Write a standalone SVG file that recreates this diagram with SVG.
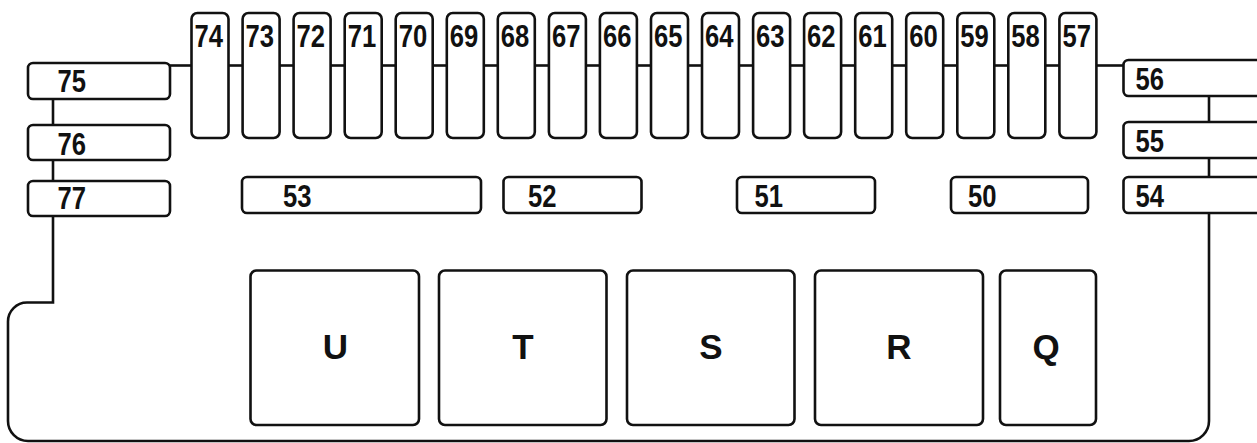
<svg xmlns="http://www.w3.org/2000/svg" width="1257" height="443" viewBox="0 0 1257 443">
  <style>
    .box { fill: #fff; stroke: #111; stroke-width: 2.6; }
    .wire { fill: none; stroke: #111; stroke-width: 2.6; }
    .num { font-family: "Liberation Sans Narrow", "Liberation Sans", Arial, sans-serif; font-weight: bold; font-size: 31px; fill: #111; }
    .big { font-family: "Liberation Sans", Arial, sans-serif; font-weight: bold; font-size: 35px; fill: #111; text-anchor: middle; }
  </style>
  <rect width="1257" height="443" fill="#fff"/>

  <!-- housing outline and bus lines -->
  <g id="connectors">
    <path class="wire" d="M53,216 V302.5 H27 A19,19 0 0 0 8,321.5 V421 A20,20 0 0 0 28,441 H1189 A20,20 0 0 0 1209,421 V213"/>
    <line class="wire" x1="53" y1="99" x2="53" y2="125"/>
    <line class="wire" x1="53" y1="160" x2="53" y2="181"/>
    <line class="wire" x1="1209" y1="96" x2="1209" y2="122"/>
    <line class="wire" x1="1209" y1="158" x2="1209" y2="177"/>
    <line class="wire" x1="170" y1="65.5" x2="191.5" y2="65.5"/>
    <line class="wire" x1="228.5" y1="65.5" x2="242.6" y2="65.5"/>
    <line class="wire" x1="279.6" y1="65.5" x2="293.6" y2="65.5"/>
    <line class="wire" x1="330.6" y1="65.5" x2="344.7" y2="65.5"/>
    <line class="wire" x1="381.7" y1="65.5" x2="395.7" y2="65.5"/>
    <line class="wire" x1="432.7" y1="65.5" x2="446.8" y2="65.5"/>
    <line class="wire" x1="483.8" y1="65.5" x2="497.8" y2="65.5"/>
    <line class="wire" x1="534.8" y1="65.5" x2="548.9" y2="65.5"/>
    <line class="wire" x1="585.9" y1="65.5" x2="599.9" y2="65.5"/>
    <line class="wire" x1="636.9" y1="65.5" x2="651.0" y2="65.5"/>
    <line class="wire" x1="688.0" y1="65.5" x2="702.0" y2="65.5"/>
    <line class="wire" x1="739.0" y1="65.5" x2="753.1" y2="65.5"/>
    <line class="wire" x1="790.1" y1="65.5" x2="804.1" y2="65.5"/>
    <line class="wire" x1="841.1" y1="65.5" x2="855.2" y2="65.5"/>
    <line class="wire" x1="892.2" y1="65.5" x2="906.2" y2="65.5"/>
    <line class="wire" x1="943.2" y1="65.5" x2="957.3" y2="65.5"/>
    <line class="wire" x1="994.3" y1="65.5" x2="1008.3" y2="65.5"/>
    <line class="wire" x1="1045.3" y1="65.5" x2="1059.4" y2="65.5"/>
    <line class="wire" x1="1096.4" y1="65.5" x2="1123.5" y2="65.5"/>
  </g>

  <!-- left column -->
  <g id="f75"><rect class="box" x="28" y="63" width="142" height="36" rx="5"/><text class="num" x="57.5" y="91.5" textLength="28.5" lengthAdjust="spacingAndGlyphs">75</text></g>
  <g id="f76"><rect class="box" x="28" y="125" width="142" height="35" rx="5"/><text class="num" x="57.5" y="155" textLength="28.5" lengthAdjust="spacingAndGlyphs">76</text></g>
  <g id="f77"><rect class="box" x="28" y="181" width="142" height="35" rx="5"/><text class="num" x="57.5" y="209" textLength="28.5" lengthAdjust="spacingAndGlyphs">77</text></g>

  <!-- top row of vertical fuses -->
  <g id="f74"><rect class="box" x="191.5" y="13" width="37" height="125" rx="6"/><text class="num" x="194.5" y="46.5" textLength="28.5" lengthAdjust="spacingAndGlyphs">74</text></g>
  <g id="f73"><rect class="box" x="242.6" y="13" width="37" height="125" rx="6"/><text class="num" x="245.6" y="46.5" textLength="28.5" lengthAdjust="spacingAndGlyphs">73</text></g>
  <g id="f72"><rect class="box" x="293.6" y="13" width="37" height="125" rx="6"/><text class="num" x="296.6" y="46.5" textLength="28.5" lengthAdjust="spacingAndGlyphs">72</text></g>
  <g id="f71"><rect class="box" x="344.7" y="13" width="37" height="125" rx="6"/><text class="num" x="347.7" y="46.5" textLength="28.5" lengthAdjust="spacingAndGlyphs">71</text></g>
  <g id="f70"><rect class="box" x="395.7" y="13" width="37" height="125" rx="6"/><text class="num" x="398.7" y="46.5" textLength="28.5" lengthAdjust="spacingAndGlyphs">70</text></g>
  <g id="f69"><rect class="box" x="446.8" y="13" width="37" height="125" rx="6"/><text class="num" x="449.8" y="46.5" textLength="28.5" lengthAdjust="spacingAndGlyphs">69</text></g>
  <g id="f68"><rect class="box" x="497.8" y="13" width="37" height="125" rx="6"/><text class="num" x="500.8" y="46.5" textLength="28.5" lengthAdjust="spacingAndGlyphs">68</text></g>
  <g id="f67"><rect class="box" x="548.9" y="13" width="37" height="125" rx="6"/><text class="num" x="551.9" y="46.5" textLength="28.5" lengthAdjust="spacingAndGlyphs">67</text></g>
  <g id="f66"><rect class="box" x="599.9" y="13" width="37" height="125" rx="6"/><text class="num" x="602.9" y="46.5" textLength="28.5" lengthAdjust="spacingAndGlyphs">66</text></g>
  <g id="f65"><rect class="box" x="651.0" y="13" width="37" height="125" rx="6"/><text class="num" x="654.0" y="46.5" textLength="28.5" lengthAdjust="spacingAndGlyphs">65</text></g>
  <g id="f64"><rect class="box" x="702.0" y="13" width="37" height="125" rx="6"/><text class="num" x="705.0" y="46.5" textLength="28.5" lengthAdjust="spacingAndGlyphs">64</text></g>
  <g id="f63"><rect class="box" x="753.1" y="13" width="37" height="125" rx="6"/><text class="num" x="756.1" y="46.5" textLength="28.5" lengthAdjust="spacingAndGlyphs">63</text></g>
  <g id="f62"><rect class="box" x="804.1" y="13" width="37" height="125" rx="6"/><text class="num" x="807.1" y="46.5" textLength="28.5" lengthAdjust="spacingAndGlyphs">62</text></g>
  <g id="f61"><rect class="box" x="855.2" y="13" width="37" height="125" rx="6"/><text class="num" x="858.2" y="46.5" textLength="28.5" lengthAdjust="spacingAndGlyphs">61</text></g>
  <g id="f60"><rect class="box" x="906.2" y="13" width="37" height="125" rx="6"/><text class="num" x="909.2" y="46.5" textLength="28.5" lengthAdjust="spacingAndGlyphs">60</text></g>
  <g id="f59"><rect class="box" x="957.3" y="13" width="37" height="125" rx="6"/><text class="num" x="960.3" y="46.5" textLength="28.5" lengthAdjust="spacingAndGlyphs">59</text></g>
  <g id="f58"><rect class="box" x="1008.3" y="13" width="37" height="125" rx="6"/><text class="num" x="1011.3" y="46.5" textLength="28.5" lengthAdjust="spacingAndGlyphs">58</text></g>
  <g id="f57"><rect class="box" x="1059.4" y="13" width="37" height="125" rx="6"/><text class="num" x="1062.4" y="46.5" textLength="28.5" lengthAdjust="spacingAndGlyphs">57</text></g>

  <!-- right column -->
  <g id="f56"><rect class="box" x="1123.5" y="60" width="150" height="36" rx="5"/><text class="num" x="1135.5" y="90" textLength="28.5" lengthAdjust="spacingAndGlyphs">56</text></g>
  <g id="f55"><rect class="box" x="1123.5" y="122" width="150" height="36" rx="5"/><text class="num" x="1135.5" y="152" textLength="28.5" lengthAdjust="spacingAndGlyphs">55</text></g>
  <g id="f54"><rect class="box" x="1123.5" y="177" width="150" height="36" rx="5"/><text class="num" x="1135.5" y="207" textLength="28.5" lengthAdjust="spacingAndGlyphs">54</text></g>

  <!-- middle row -->
  <g id="f53"><rect class="box" x="242" y="177" width="239" height="36" rx="5"/><text class="num" x="283" y="206.5" textLength="28.5" lengthAdjust="spacingAndGlyphs">53</text></g>
  <g id="f52"><rect class="box" x="503.5" y="177" width="138" height="36" rx="5"/><text class="num" x="528" y="206.5" textLength="28.5" lengthAdjust="spacingAndGlyphs">52</text></g>
  <g id="f51"><rect class="box" x="737" y="177" width="138" height="36" rx="5"/><text class="num" x="754.5" y="206.5" textLength="28.5" lengthAdjust="spacingAndGlyphs">51</text></g>
  <g id="f50"><rect class="box" x="951" y="177" width="137" height="36" rx="5"/><text class="num" x="968" y="206.5" textLength="28.5" lengthAdjust="spacingAndGlyphs">50</text></g>

  <!-- relay sockets -->
  <g id="relayU"><rect class="box" x="250.5" y="270.5" width="168.5" height="154.5" rx="6"/><text class="big" x="335.5" y="359">U</text></g>
  <g id="relayT"><rect class="box" x="439" y="270.5" width="167.5" height="154.5" rx="6"/><text class="big" x="523" y="359">T</text></g>
  <g id="relayS"><rect class="box" x="627" y="270.5" width="167.5" height="154.5" rx="6"/><text class="big" x="711" y="359">S</text></g>
  <g id="relayR"><rect class="box" x="815" y="270.5" width="168" height="154.5" rx="6"/><text class="big" x="899" y="359">R</text></g>
  <g id="relayQ"><rect class="box" x="1000" y="270.5" width="96" height="154.5" rx="6"/><text class="big" x="1046" y="359">Q</text></g>
</svg>
